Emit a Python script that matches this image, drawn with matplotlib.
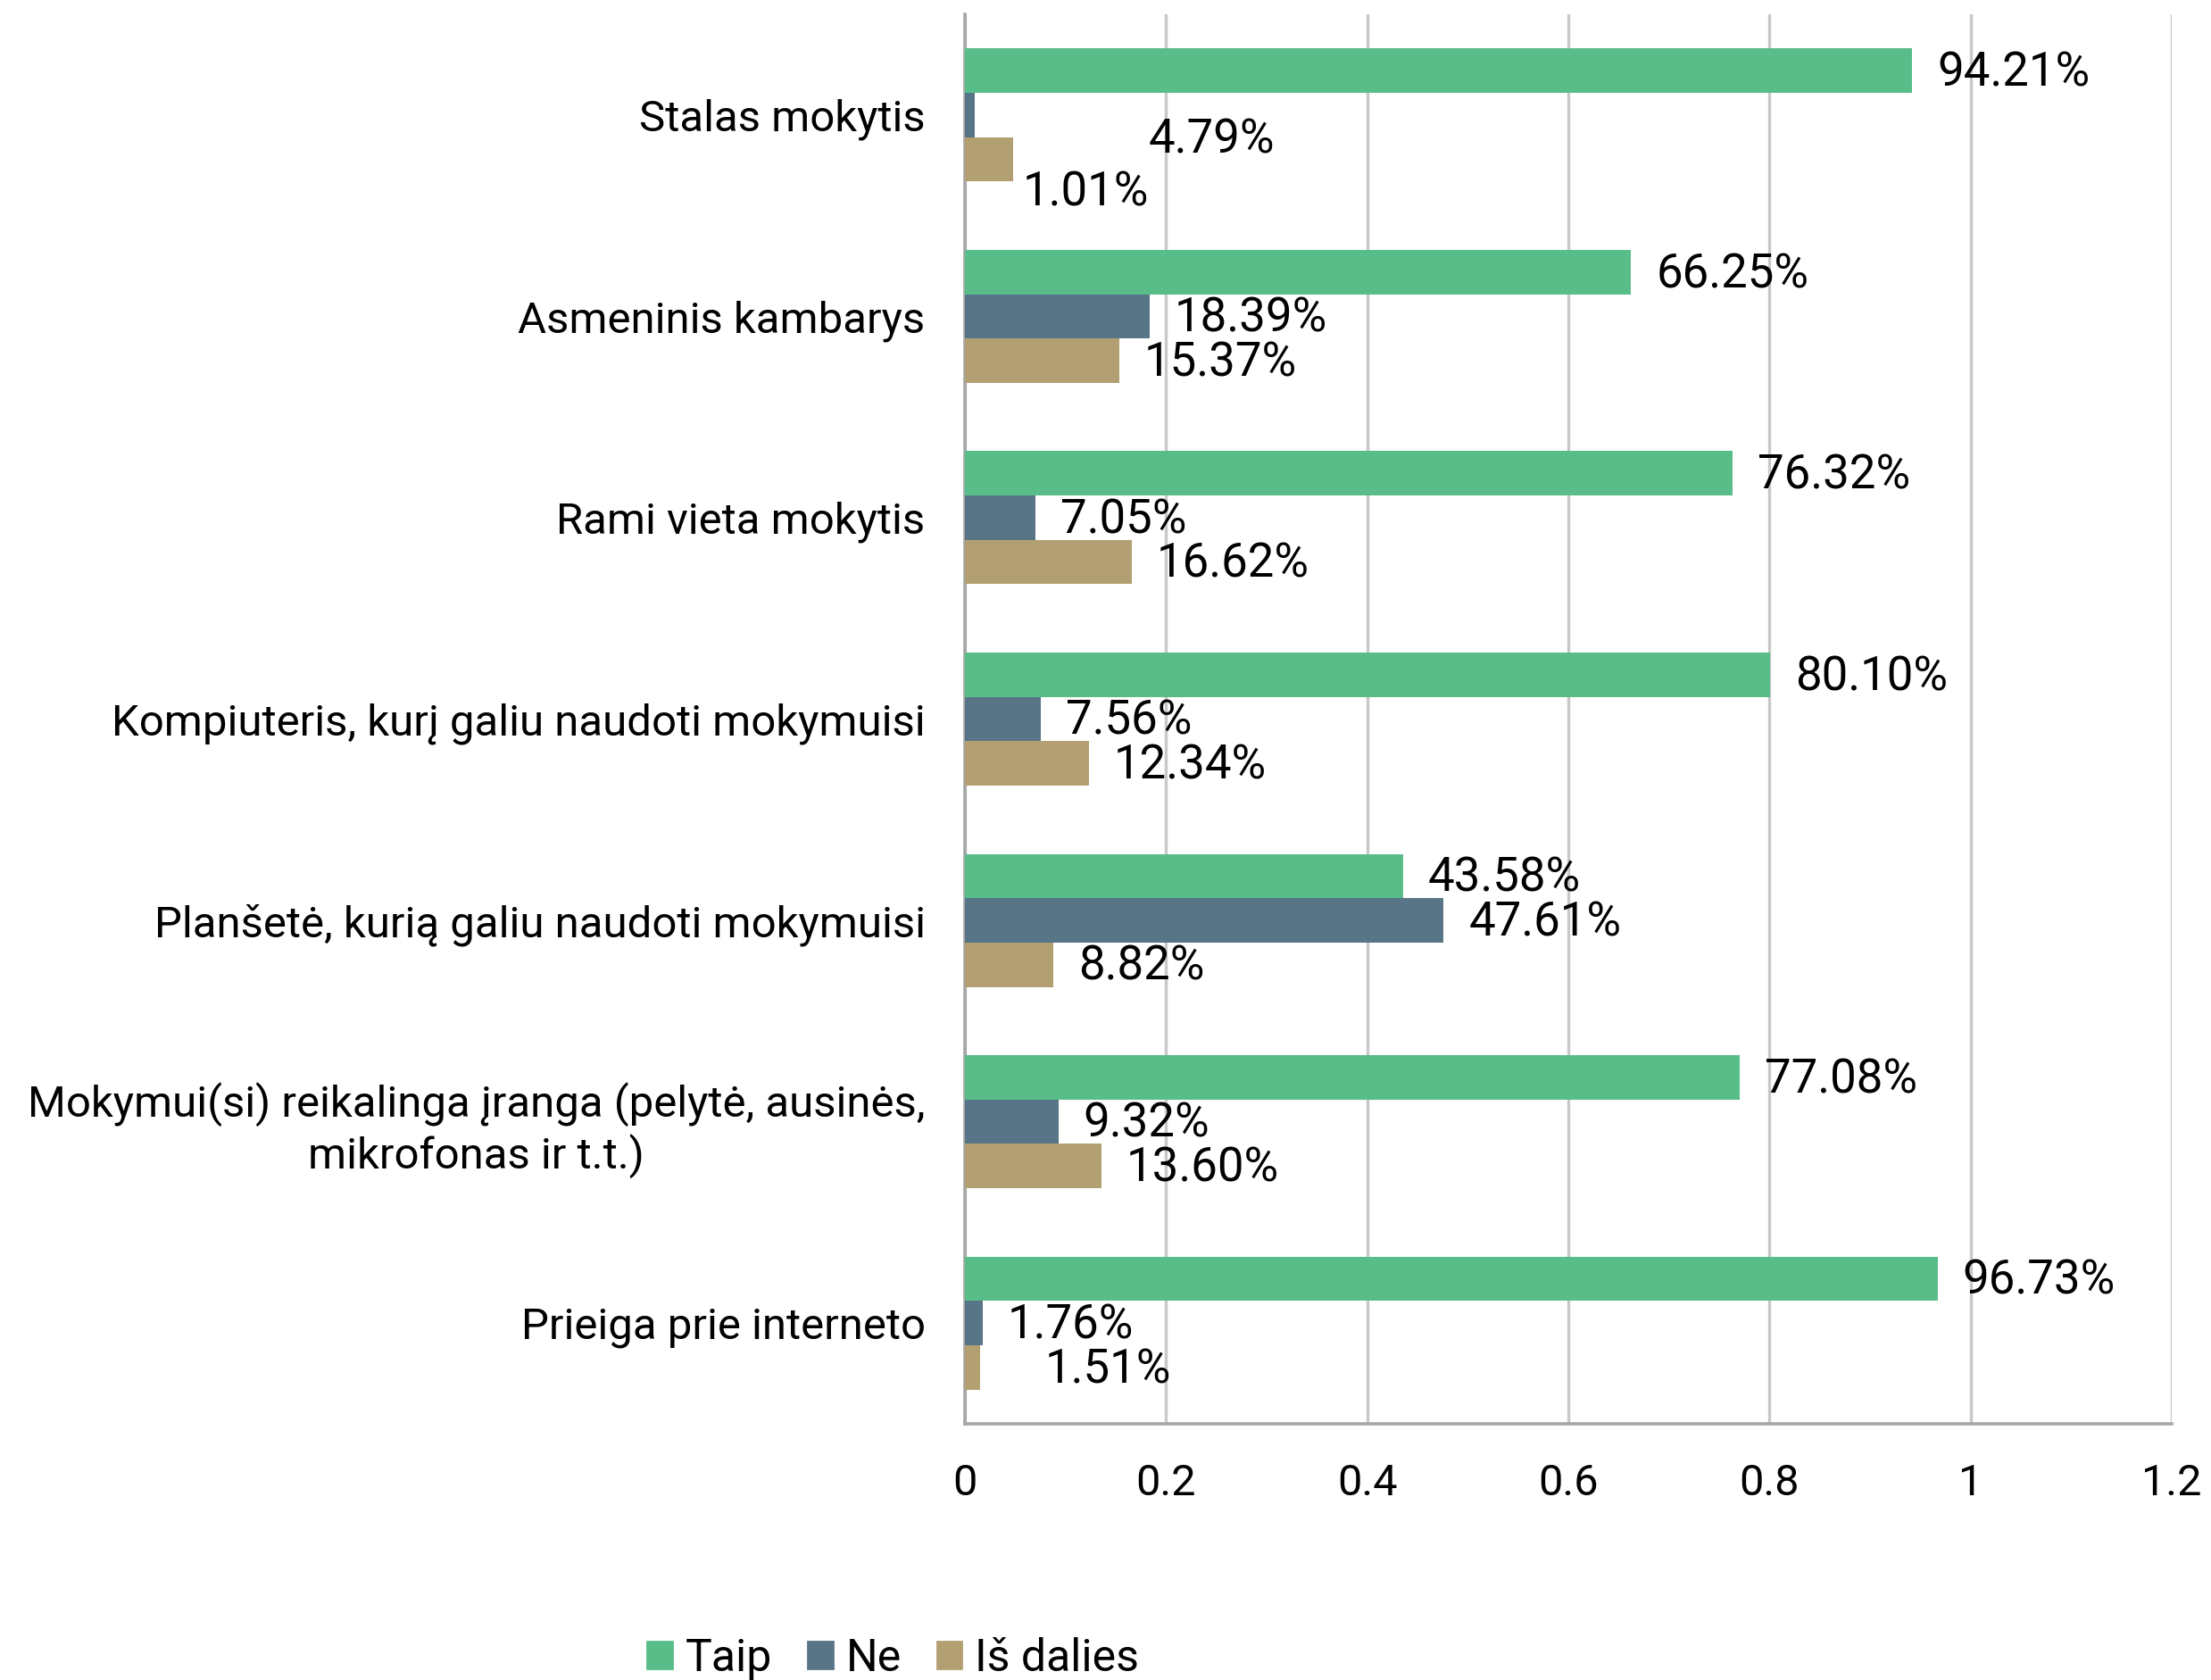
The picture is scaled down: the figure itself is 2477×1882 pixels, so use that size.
import numpy as np
import matplotlib
matplotlib.use("Agg")
from matplotlib import pyplot as plt
from matplotlib.patches import Patch
from matplotlib.transforms import ScaledTranslation

plt.rcParams['font.family'] = ['Roboto', 'DejaVu Sans']

categories = [
    "Stalas mokytis",
    "Asmeninis kambarys",
    "Rami vieta mokytis",
    "Kompiuteris, kurį galiu naudoti mokymuisi",
    "Planšetė, kurią galiu naudoti mokymuisi",
    "Mokymui(si) reikalinga įranga (pelytė, ausinės,\nmikrofonas ir t.t.)",
    "Prieiga prie interneto",
]
series = ["Taip", "Ne", "Iš dalies"]
taip = [0.9421, 0.6625, 0.7632, 0.8010, 0.4358, 0.7708, 0.9673]
ne = [0.0101, 0.1839, 0.0705, 0.0756, 0.4761, 0.0932, 0.0176]
is_dalies = [0.0479, 0.1537, 0.1662, 0.1234, 0.0882, 0.1360, 0.0151]
# data labels as shown in the chart (first row labels are swapped in the original)
taip_lbl = ["94.21%", "66.25%", "76.32%", "80.10%", "43.58%", "77.08%", "96.73%"]
ne_lbl = ["4.79%", "18.39%", "7.05%", "7.56%", "47.61%", "9.32%", "1.76%"]
is_lbl = ["1.01%", "15.37%", "16.62%", "12.34%", "8.82%", "13.60%", "1.51%"]
xticks = [0, 0.2, 0.4, 0.6, 0.8, 1.0, 1.2]
xtick_lbl = ["0", "0.2", "0.4", "0.6", "0.8", "1", "1.2"]

colors = ["#59BD8A", "#587587", "#B3A072"]
# manually dragged labels in the original (series index, row) -> (dx, dy) points
nudge = {(1, 0): (60, -9), (2, 0): (-6, -12.5), (2, 6): (16, 0)}

fig = plt.figure(figsize=(2477/200, 1882/200), dpi=200)
ax = fig.add_axes([0.4364, 0.1525, 0.5458, 0.839])

y = np.arange(len(categories))
h = 0.22
vals = [taip, ne, is_dalies]
lbls = [taip_lbl, ne_lbl, is_lbl]
for k in range(3):
    ax.barh(y + (k - 1)*h, vals[k], height=h, color=colors[k], label=series[k], zorder=3)
    for i in range(len(categories)):
        dx, dy = nudge.get((k, i), (0, 0))
        ax.annotate(lbls[k][i], (vals[k][i], y[i] + (k - 1)*h),
                    xytext=(10 + dx, -1 + dy), textcoords="offset points",
                    ha="left", va="center", fontsize=19, color="black", zorder=4)

ax.set_xlim(0, 1.2)
ax.set_ylim(len(categories) - 0.5, -0.5)
ax.set_xticks(xticks)
ax.set_xticklabels(xtick_lbl, fontsize=17.5)
ax.set_yticks(y)
ax.set_yticklabels(categories, fontsize=17.7)
up = ScaledTranslation(0, 2/72, fig.dpi_scale_trans)
for t in ax.get_yticklabels():
    t.set_multialignment("center")
    t.set_transform(t.get_transform() + up)
ax.tick_params(axis="both", length=0)
ax.tick_params(axis="x", pad=16)
ax.tick_params(axis="y", pad=16)
ax.xaxis.grid(True, color="#c8c8c8", linewidth=1.2, zorder=0)
for s in ["top", "right"]:
    ax.spines[s].set_visible(False)
for s in ["left", "bottom"]:
    ax.spines[s].set_color("#a6a6a6")
    ax.spines[s].set_linewidth(1.3)

handles = [Patch(color=c) for c in colors]
fig.legend(handles, series, loc="center", bbox_to_anchor=(0.404, 0.013), ncol=3,
           frameon=False, fontsize=18, handlelength=0.55, handleheight=0.55,
           handletextpad=0.3, columnspacing=0.8)

fig.savefig("out.png", dpi=200)
